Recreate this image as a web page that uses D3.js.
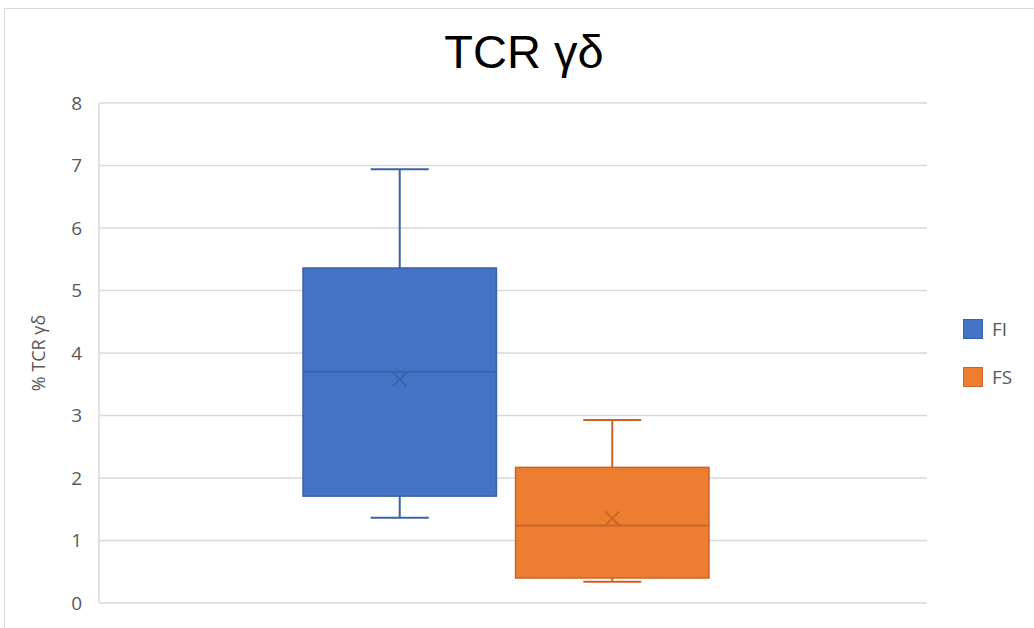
<!DOCTYPE html>
<html><head><meta charset="utf-8">
<script src="https://cdn.jsdelivr.net/npm/d3@7"></script>
<style>html,body{margin:0;padding:0;background:#fff;}svg{display:block;}</style>
</head><body>
<script>
const series = ["FI", "FS"];
const whiskerMin = [1.365, 0.34];
const q1 = [1.71, 0.40];
const median = [3.70, 1.24];
const q3 = [5.36, 2.17];
const whiskerMax = [6.94, 2.93];
const mean = [3.58, 1.355];
const yTicks = [0, 1, 2, 3, 4, 5, 6, 7, 8];
const fills = ["#4472C4", "#ED7D31"];
const strokes = ["#3A62A8", "#C8662A"];

const W = 1034, H = 628;
const svg = d3.select("body").append("svg").attr("width", W).attr("height", H);

// chart frame
svg.append("rect").attr("x", 4.5).attr("y", 8.5).attr("width", 1100).attr("height", 700)
  .attr("fill", "none").attr("stroke", "#d9d9d9").attr("stroke-width", 1);

const plot = {left: 99, right: 927, top: 103, bottom: 603};
const y = d3.scaleLinear().domain([0, 8]).range([plot.bottom, plot.top]);
const x = d3.scaleBand().domain(series).range([303, 709]).paddingInner(0.09);

// gridlines
svg.append("g").selectAll("line").data(yTicks).join("line")
  .attr("x1", plot.left).attr("x2", plot.right)
  .attr("y1", d => y(d)).attr("y2", d => y(d))
  .attr("stroke", "#d9d9d9").attr("stroke-width", 1.5);
svg.append("line").attr("x1", plot.left).attr("x2", plot.left)
  .attr("y1", y(8)).attr("y2", y(0)).attr("stroke", "#d9d9d9").attr("stroke-width", 1.5);

// y axis labels
const yAxis = d3.axisLeft(y).tickValues(yTicks).tickSize(0).tickPadding(17);
const ga = svg.append("g").attr("transform", `translate(${plot.left},0)`).call(yAxis);
ga.select(".domain").remove();
ga.selectAll("text").attr("fill", "#595959").style("font-family", "'Open Sans', sans-serif").style("font-size", "19px");

// y axis title
svg.append("text").attr("transform", "translate(45,353) rotate(-90)")
  .attr("text-anchor", "middle").attr("fill", "#595959")
  .style("font-family", "'Open Sans', sans-serif").style("font-size", "18px").text("% TCR γδ");

// title
svg.append("text").attr("x", 524).attr("y", 68).attr("text-anchor", "middle")
  .attr("fill", "#000").style("font-family", "'Liberation Sans', Arial, sans-serif")
  .style("font-size", "47px").text("TCR γδ");

// boxes
const g = svg.append("g");
series.forEach((s, i) => {
  const x0 = x(s), bw = x.bandwidth(), cx = x0 + bw / 2, cap = bw * 0.3;
  const st = strokes[i];
  g.append("line").attr("x1", cx).attr("x2", cx).attr("y1", y(whiskerMax[i])).attr("y2", y(q3[i]))
    .attr("stroke", st).attr("stroke-width", 2);
  g.append("line").attr("x1", cx).attr("x2", cx).attr("y1", y(q1[i])).attr("y2", y(whiskerMin[i]))
    .attr("stroke", st).attr("stroke-width", 2);
  g.append("line").attr("x1", cx - cap / 2).attr("x2", cx + cap / 2).attr("y1", y(whiskerMax[i])).attr("y2", y(whiskerMax[i]))
    .attr("stroke", st).attr("stroke-width", 2);
  g.append("line").attr("x1", cx - cap / 2).attr("x2", cx + cap / 2).attr("y1", y(whiskerMin[i])).attr("y2", y(whiskerMin[i]))
    .attr("stroke", st).attr("stroke-width", 2);
  g.append("rect").attr("x", x0).attr("width", bw).attr("y", y(q3[i])).attr("height", y(q1[i]) - y(q3[i]))
    .attr("fill", fills[i]).attr("stroke", st).attr("stroke-width", 1.5);
  g.append("line").attr("x1", x0).attr("x2", x0 + bw).attr("y1", y(median[i])).attr("y2", y(median[i]))
    .attr("stroke", st).attr("stroke-width", 2);
  const my = y(mean[i]), m = 7;
  g.append("path").attr("d", `M${cx - m},${my - m}L${cx + m},${my + m}M${cx - m},${my + m}L${cx + m},${my - m}`)
    .attr("stroke", st).attr("stroke-width", 1.8).attr("fill", "none");
});

// legend
const lg = svg.append("g");
series.forEach((s, i) => {
  const ly = 319 + i * 48;
  lg.append("rect").attr("x", 963.5).attr("y", ly + 0.5).attr("width", 19).attr("height", 19)
    .attr("fill", fills[i]).attr("stroke", strokes[i]).attr("stroke-width", 1);
  lg.append("text").attr("x", 992).attr("y", ly + 17).attr("fill", "#595959")
    .style("font-family", "'Open Sans', sans-serif").style("font-size", "19px").text(s);
});
</script>
</body></html>
